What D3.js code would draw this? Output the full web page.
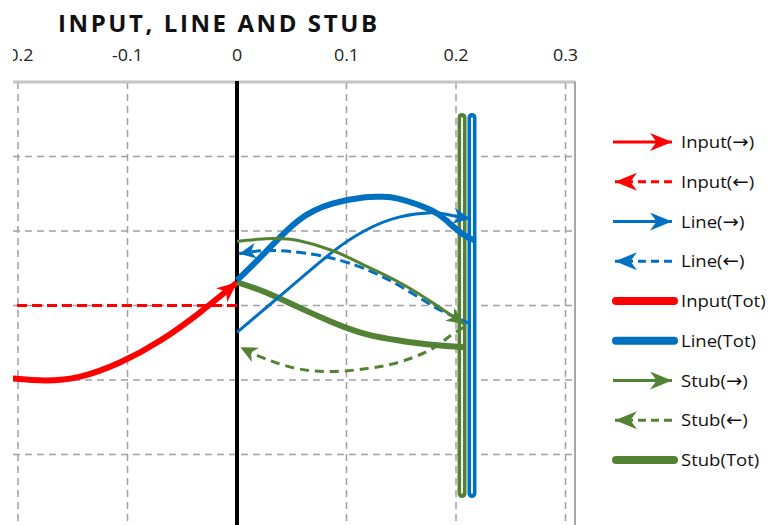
<!DOCTYPE html>
<html>
<head>
<meta charset="utf-8">
<script src="https://cdn.jsdelivr.net/npm/d3@7"></script>
<style>
  html, body { margin: 0; padding: 0; background: #fff; }
  svg { display: block; font-family: "Open Sans", sans-serif; }
</style>
</head>
<body>
<svg id="chart" width="769" height="525"></svg>
<script>
// values (x = position, y = amplitude)
const xTicks = [-0.2, -0.1, 0, 0.1, 0.2, 0.3];
const yGrid = [-1, -0.5, 0, 0.5, 1];

const inputFwd = [[-0.205, -0.49], [-0.175, -0.503], [-0.143, -0.477], [-0.107, -0.383], [-0.070, -0.235], [-0.034, -0.047], [0, 0.154]];
const inputBack = [[0, 0], [-0.201, 0]];
const lineFwd = [[0, -0.18], [0.029, 0], [0.056, 0.168], [0.087, 0.358], [0.117, 0.503], [0.148, 0.593], [0.178, 0.622], [0.193, 0.609], [0.213, 0.582]];
const lineBack = [[0.213, -0.123], [0.193, -0.056], [0.178, 0], [0.148, 0.134], [0.117, 0.246], [0.087, 0.317], [0.056, 0.358], [0.026, 0.369], [0.002, 0.347]];
const lineTot = [[0, 0.168], [0.026, 0.358], [0.056, 0.570], [0.087, 0.683], [0.117, 0.727], [0.132, 0.730], [0.148, 0.716], [0.178, 0.638], [0.193, 0.559], [0.208, 0.470], [0.218, 0.436]];
const stubFwd = [[0, 0.43], [0.026, 0.448], [0.041, 0.448], [0.056, 0.436], [0.087, 0.369], [0.117, 0.268], [0.148, 0.156], [0.178, 0.022], [0.207, -0.123]];
const stubBack = [[0.207, -0.146], [0.193, -0.213], [0.178, -0.291], [0.148, -0.381], [0.117, -0.425], [0.087, -0.443], [0.056, -0.425], [0.026, -0.358], [0.003, -0.280]];
const stubTot = [[0, 0.156], [0.026, 0.089], [0.056, -0.011], [0.087, -0.112], [0.117, -0.190], [0.148, -0.235], [0.178, -0.264], [0.2085, -0.280]];
// vertical totals at the stub position
const stubBar = [[0.2055, 1.262], [0.2055, -1.262]];
const lineBar = [[0.2146, 1.262], [0.2146, -1.262]];

const legendLabels = ['Input(\u2192)', 'Input(\u2190)', 'Line(\u2192)', 'Line(\u2190)', 'Input(Tot)', 'Line(Tot)', 'Stub(\u2192)', 'Stub(\u2190)', 'Stub(Tot)'];

const RED = '#ff0000', BLUE = '#0070c0', GREEN = '#548235';

const svg = d3.select('#chart');
const x = d3.scaleLinear().domain([0, 0.3]).range([237, 565.5]);
const y = d3.scaleLinear().domain([-1.5, 1.5]).range([529, 82]);
const plotLeft = 13, plotRight = 575, plotTop = 82;

// arrow markers
const defs = svg.append('defs');
defs.append('clipPath').attr('id', 'clip').append('rect')
    .attr('x', plotLeft).attr('y', 0).attr('width', 769 - plotLeft).attr('height', 525);
function marker(id, color, len, half) {
    defs.append('marker')
        .attr('id', id)
        .attr('markerUnits', 'userSpaceOnUse')
        .attr('viewBox', `${-len} ${-half} ${len + 1} ${half * 2}`)
        .attr('refX', 0).attr('refY', 0)
        .attr('markerWidth', len + 1).attr('markerHeight', half * 2)
        .attr('orient', 'auto')
        .append('path')
        .attr('d', `M0,0 L${-len},${-half} L${-len * 0.7},0 L${-len},${half} Z`)
        .attr('fill', color);
}
marker('a-red', RED, 20, 9);
marker('a-blue', BLUE, 17, 8);
marker('a-green', GREEN, 17, 8);
marker('l-red', RED, 22, 9);
marker('l-blue', BLUE, 22, 9);
marker('l-green', GREEN, 22, 9);

const plot = svg.append('g').attr('clip-path', 'url(#clip)');

// grid
const grid = plot.append('g');
grid.selectAll('.vg').data(xTicks).enter().append('line')
    .attr('x1', d => x(d)).attr('x2', d => x(d))
    .attr('y1', plotTop).attr('y2', 525)
    .attr('stroke', '#a0a0a0').attr('stroke-width', 1.5).attr('stroke-dasharray', '7,5');
grid.selectAll('.hg').data(yGrid).enter().append('line')
    .attr('x1', plotLeft).attr('x2', plotRight)
    .attr('y1', d => y(d)).attr('y2', d => y(d))
    .attr('stroke', '#a0a0a0').attr('stroke-width', 1.5).attr('stroke-dasharray', '7,5');
grid.append('line').attr('x1', plotLeft).attr('x2', plotRight + 1).attr('y1', plotTop).attr('y2', plotTop)
    .attr('stroke', '#c4c4c4').attr('stroke-width', 3);
grid.append('line').attr('x1', plotRight).attr('x2', plotRight).attr('y1', plotTop).attr('y2', 525)
    .attr('stroke', '#a6a6a6').attr('stroke-width', 2);

// axis at x = 0
plot.append('line').attr('x1', x(0)).attr('x2', x(0)).attr('y1', plotTop - 1).attr('y2', 525)
    .attr('stroke', '#000').attr('stroke-width', 4);

// tick labels
plot.append('g').selectAll('text').data(xTicks).enter().append('text')
    .attr('transform', d => `translate(${x(d)},61) scale(1.12,1)`)
    .attr('text-anchor', 'middle')
    .attr('font-size', 16).attr('fill', '#222')
    .text(d => String(d));

// title
svg.append('text')
    .attr('x', 58).attr('y', 32)
    .attr('font-size', 24).attr('font-weight', 'bold').attr('fill', '#111')
    .attr('textLength', 319).attr('lengthAdjust', 'spacing')
    .text('INPUT, LINE AND STUB');

const line = d3.line().x(d => x(d[0])).y(d => y(d[1])).curve(d3.curveNatural);
const straight = d3.line().x(d => x(d[0])).y(d => y(d[1]));

// vertical totals (double line look)
function bar(data, color) {
    plot.append('path').attr('d', straight(data)).attr('stroke', color)
        .attr('stroke-width', 9).attr('stroke-linecap', 'round').attr('fill', 'none');
    plot.append('path').attr('d', straight(data)).attr('stroke', '#fff')
        .attr('stroke-width', 1.8).attr('fill', 'none');
}
bar(stubBar, GREEN);
bar(lineBar, BLUE);

function curve(data, color, width, dash, mk) {
    plot.append('path').attr('d', line(data))
        .attr('fill', 'none').attr('stroke', color).attr('stroke-width', width)
        .attr('stroke-dasharray', dash || null)
        .attr('marker-end', mk ? `url(#${mk})` : null);
}
curve(inputBack, RED, 3, '10,5');
curve(inputFwd, RED, 6, null, 'a-red');
curve(stubTot, GREEN, 6);
curve(lineTot, BLUE, 6);
curve(lineFwd, BLUE, 3, null, 'a-blue');
curve(lineBack, BLUE, 3, '10,5', 'a-blue');
curve(stubFwd, GREEN, 3, null, 'a-green');
curve(stubBack, GREEN, 3, '9,6', 'a-green');

// legend
const legendStyles = [
    { c: RED, k: 'fwd', m: 'l-red' }, { c: RED, k: 'back', m: 'l-red' },
    { c: BLUE, k: 'fwd', m: 'l-blue' }, { c: BLUE, k: 'back', m: 'l-blue' },
    { c: RED, k: 'tot' }, { c: BLUE, k: 'tot' },
    { c: GREEN, k: 'fwd', m: 'l-green' }, { c: GREEN, k: 'back', m: 'l-green' },
    { c: GREEN, k: 'tot' }
];
const lg = svg.append('g');
legendLabels.forEach((lab, i) => {
    const s = legendStyles[i];
    const cy = 142 + i * 39.75;
    const g = lg.append('g').attr('transform', `translate(0,${cy})`);
    if (s.k === 'fwd') {
        g.append('line').attr('x1', 613).attr('x2', 672).attr('y1', 0).attr('y2', 0)
            .attr('stroke', s.c).attr('stroke-width', 3).attr('marker-end', `url(#${s.m})`);
    } else if (s.k === 'back') {
        g.append('line').attr('x1', 672).attr('x2', 615).attr('y1', 0).attr('y2', 0)
            .attr('stroke', s.c).attr('stroke-width', 3).attr('stroke-dasharray', '8,5')
            .attr('marker-end', `url(#${s.m})`);
    } else {
        g.append('line').attr('x1', 616).attr('x2', 674).attr('y1', 0).attr('y2', 0)
            .attr('stroke', s.c).attr('stroke-width', 8).attr('stroke-linecap', 'round');
    }
    const t = g.append('text').attr('transform', 'translate(681,6) scale(1.09,1)')
        .attr('font-size', 17).attr('fill', '#111');
    // arrows drawn with a font that has full-size arrow glyphs
    lab.split(/([\u2190\u2192])/).filter(p => p).forEach(p => {
        const ts = t.append('tspan').text(p);
        if (/[\u2190\u2192]/.test(p)) ts.attr('font-family', 'DejaVu Sans').attr('font-size', 18);
    });
});
</script>
</body>
</html>
